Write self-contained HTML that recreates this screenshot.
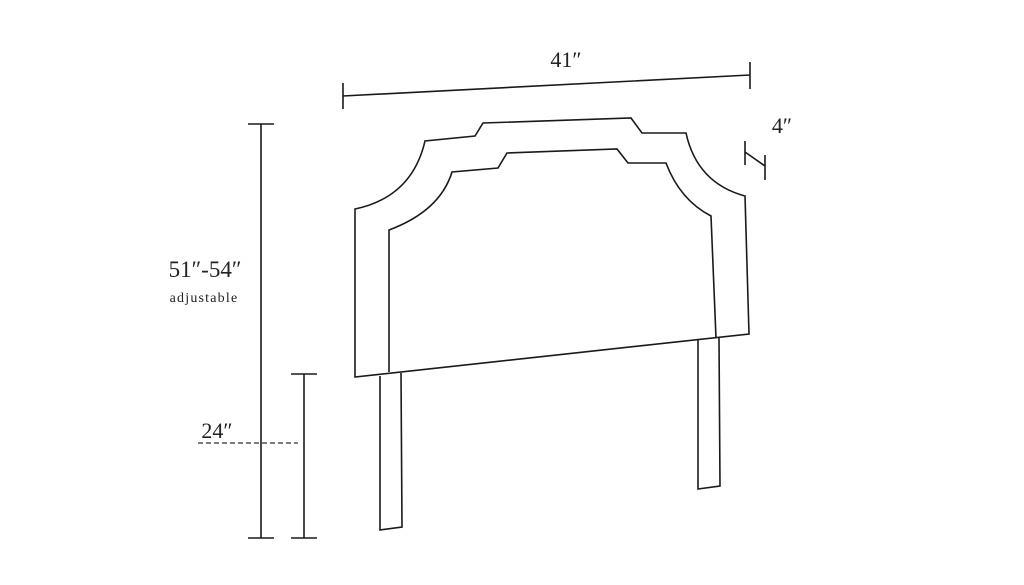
<!DOCTYPE html>
<html><head><meta charset="utf-8"><style>
html,body{margin:0;padding:0;background:#fff;}
svg{display:block;}
text{font-family:"Liberation Serif",serif;fill:#222;}
</style></head><body>
<svg width="1024" height="585" viewBox="0 0 1024 585" xmlns="http://www.w3.org/2000/svg">
<g fill="none" stroke="#1a1a1a" stroke-width="1.6" stroke-linejoin="miter">
<path d="M355,377 L355,209 Q412,197 425,141 L475,136 L483,123 L631,118 L642,133 L686,133 Q697,183 745,196 L749,334 Z"/>
<path d="M389,372 L389,230 Q440,211 452,172 L498,168 L507,153 L617,149 L628,163 L666,163 Q680,200 711,216 L716,338"/>
<path d="M380,376 L380,530 L402,527 L401,373"/>
<path d="M698,340 L698,489 L720,486 L719,338"/>
<path d="M343,83 L343,109 M343,96 L750,75 M750,62 L750,89"/>
<path d="M745,141 L745,165 M765,155 L765,180 M745,152 L765,166"/>
<path d="M248,124 L274,124 M261,124 L261,538 M248,538 L274,538"/>
<path d="M291,374 L317,374 M304,374 L304,538 M291,538 L317,538"/>
</g>
<path d="M198,443 L298,443" stroke="#333" stroke-width="1.2" stroke-dasharray="5,3"/>
<text x="566" y="67" font-size="22" text-anchor="middle">41″</text>
<text x="782" y="133" font-size="22" text-anchor="middle">4″</text>
<text x="205" y="277" font-size="23" text-anchor="middle">51″-54″</text>
<text x="204" y="302" font-size="14" text-anchor="middle" letter-spacing="1.2">adjustable</text>
<text x="217" y="438" font-size="22" text-anchor="middle">24″</text>
</svg>
</body></html>
